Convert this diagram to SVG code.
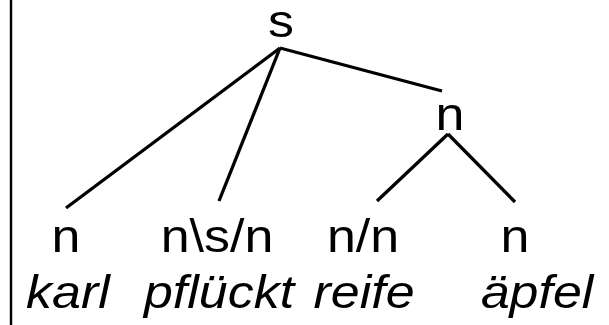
<svg xmlns="http://www.w3.org/2000/svg" width="609" height="325" viewBox="0 0 609 325">
  <style>
    .cat { font-family: "Liberation Sans", Arial, sans-serif; font-size: 46px; fill: #000; text-anchor: middle; }
    .word { font-family: "Liberation Sans", Arial, sans-serif; font-size: 46px; font-style: italic; fill: #000; text-anchor: middle; }
    .edge { stroke: #000; stroke-width: 3.3; fill: none; stroke-linecap: butt; }
  </style>
  <rect width="609" height="325" fill="#fff"/>
  <!-- left border rule -->
  <line x1="11" y1="0" x2="11" y2="325" stroke="#000" stroke-width="2.4"/>

  <g id="connectors">
    <line class="edge" x1="280" y1="48" x2="442" y2="91"/>
    <line class="edge" x1="280" y1="48" x2="66" y2="208"/>
    <line class="edge" x1="280" y1="48" x2="219" y2="201"/>
    <line class="edge" x1="448" y1="134" x2="377" y2="201"/>
    <line class="edge" x1="448" y1="134" x2="515" y2="202"/>
  </g>

  <!-- glyphs are widened slightly with a horizontal scale -->
  <g id="node-s"><text class="cat" transform="translate(281,37) scale(1.13,1)">s</text></g>
  <g id="node-n-np"><text class="cat" transform="translate(450,130) scale(1.13,1)">n</text></g>
  <g id="node-karl">
    <text class="cat" transform="translate(66,252) scale(1.13,1)">n</text>
    <text class="word" transform="translate(68,308) scale(1.13,1)">karl</text>
  </g>
  <g id="node-pflueckt">
    <text class="cat" transform="translate(217,252) scale(1.13,1)">n\s/n</text>
    <text class="word" transform="translate(219,308) scale(1.13,1)">pflückt</text>
  </g>
  <g id="node-reife">
    <text class="cat" transform="translate(363,252) scale(1.13,1)">n/n</text>
    <text class="word" transform="translate(364,308) scale(1.13,1)">reife</text>
  </g>
  <g id="node-aepfel">
    <text class="cat" transform="translate(515,252) scale(1.13,1)">n</text>
    <text class="word" transform="translate(537,308) scale(1.13,1)">äpfel</text>
  </g>
</svg>
